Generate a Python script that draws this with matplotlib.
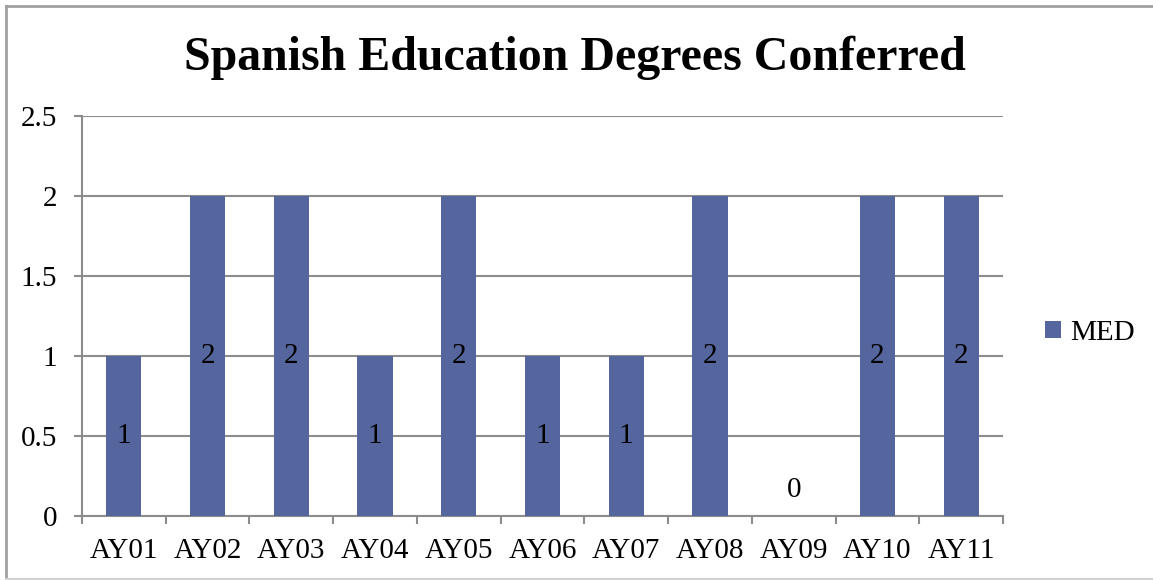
import matplotlib.pyplot as plt
import numpy as np

plt.rcParams['font.family'] = ['Liberation Serif', 'DejaVu Serif']

years = ['AY01', 'AY02', 'AY03', 'AY04', 'AY05', 'AY06',
         'AY07', 'AY08', 'AY09', 'AY10', 'AY11']
med = [1, 2, 2, 1, 2, 1, 1, 2, 0, 2, 2]

bar_color = '#55659D'
grid_color = '#8C8C8C'

fig = plt.figure(figsize=(11.53, 5.80), dpi=100)
ax = fig.add_axes([82 / 1153, 64 / 580, 921 / 1153, 400 / 580])

x = np.arange(len(years))
bars = ax.bar(x, med, width=0.42, color=bar_color, label='MED', zorder=3)

# data labels in the middle of each bar
for xi, v in zip(x, med):
    if v > 0:
        ax.text(xi, v / 2, str(v), ha='center', va='center', fontsize=21, zorder=4)
    else:
        ax.annotate(str(v), (xi, 0), xytext=(0, 19), textcoords='offset points',
                    ha='center', va='center', fontsize=21)

ax.set_xlim(-0.5, len(years) - 0.5)
ax.set_ylim(0, 2.5)
ax.set_yticks([0, 0.5, 1, 1.5, 2, 2.5])
ax.set_yticklabels(['0', '0.5', '1', '1.5', '2', '2.5'])

ax.set_xticks(x)
ax.set_xticklabels(years)
ax.set_xticks(np.arange(len(years) + 1) - 0.5, minor=True)

ax.tick_params(axis='y', which='major', length=6, width=1.5, color=grid_color,
               labelsize=21, pad=12)
ax.tick_params(axis='x', which='major', length=0, labelsize=21, pad=16)
ax.tick_params(axis='x', which='minor', length=6, width=1.5, color=grid_color)

ax.yaxis.grid(True, color=grid_color, linewidth=1.5, zorder=0)
for s in ['top', 'right']:
    ax.spines[s].set_visible(False)
for s in ['left', 'bottom']:
    ax.spines[s].set_color(grid_color)
    ax.spines[s].set_linewidth(1.5)

fig.suptitle('Spanish Education Degrees Conferred', fontsize=34.5, fontweight='bold',
             x=575 / 1153, y=1 - 58 / 580, va='center')

ax.legend(loc='center left', bbox_to_anchor=(1.046, 0.4575), frameon=False,
          fontsize=21, handlelength=0.55, handleheight=0.55, handletextpad=0.3,
          borderpad=0, borderaxespad=0)

# outer chart border (left, top, bottom visible)
fig.add_artist(plt.Line2D([5.5 / 1153, 5.5 / 1153], [1 - 5.5 / 580, 1.5 / 580],
                          transform=fig.transFigure, color='#A0A0A0', linewidth=2))
fig.add_artist(plt.Line2D([5.5 / 1153, 1], [1 - 5.5 / 580, 1 - 5.5 / 580],
                          transform=fig.transFigure, color='#A0A0A0', linewidth=2))
fig.add_artist(plt.Line2D([5.5 / 1153, 1], [1.5 / 580, 1.5 / 580],
                          transform=fig.transFigure, color='#D0D0D0', linewidth=1.5))

fig.savefig('out.png', dpi=100)
